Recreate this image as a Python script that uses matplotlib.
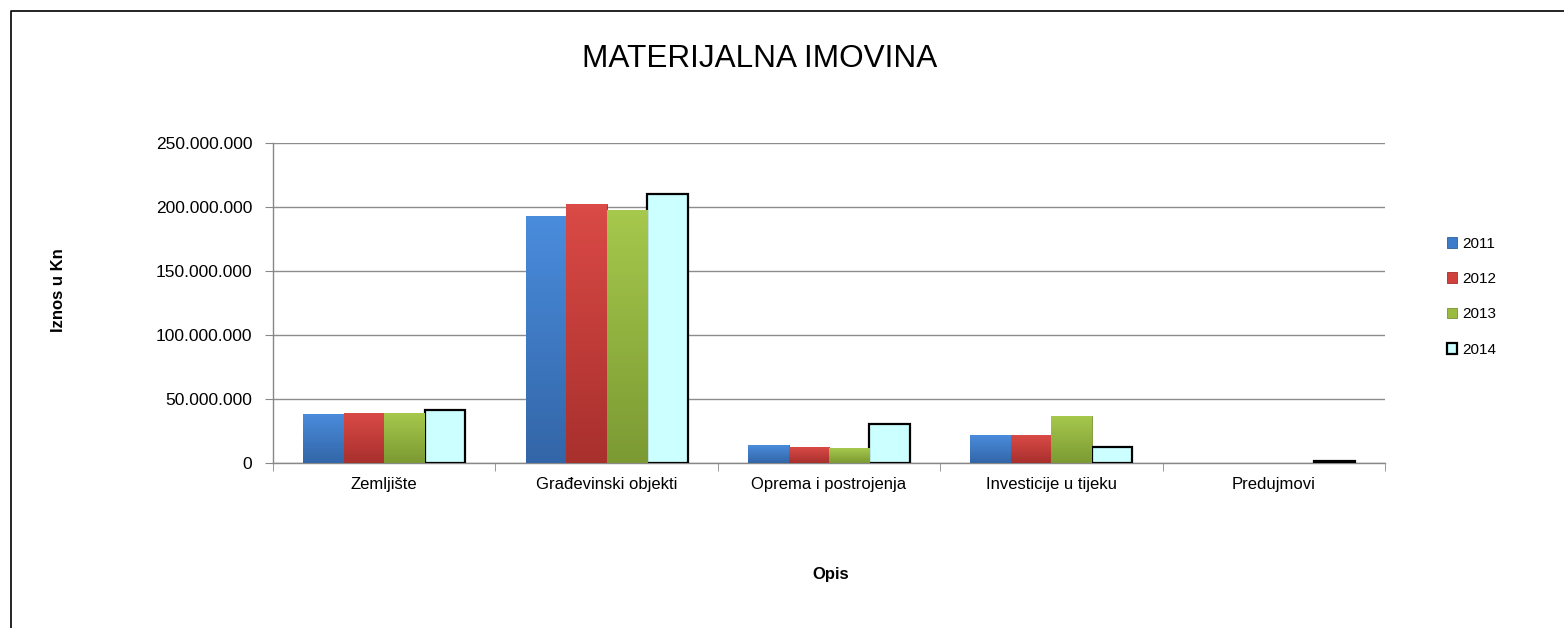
import numpy as np
import matplotlib.pyplot as plt
from matplotlib.colors import LinearSegmentedColormap
from matplotlib.ticker import FuncFormatter

categories = ["Zemljište", "Građevinski objekti", "Oprema i postrojenja",
              "Investicije u tijeku", "Predujmovi"]
years = ["2011", "2012", "2013", "2014"]
v2011 = [38.3e6, 193.0e6, 14.0e6, 21.7e6, 0.0]
v2012 = [39.3e6, 202.3e6, 12.5e6, 21.7e6, 0.3e6]
v2013 = [39.0e6, 198.0e6, 11.5e6, 36.7e6, 0.3e6]
v2014 = [41.4e6, 210.0e6, 30.6e6, 12.3e6, 1.2e6]

colors = ["#3C7CCB", "#D0403C", "#9ABB40", "#CCFFFF"]
# light top / dark bottom for the shaded series
shades = [("#4A8CDC", "#3366A8"), ("#DA4A46", "#A8302D"), ("#A6C84C", "#7C9A33"), None]
edges = ["#2E5F9E", "#A22E2C", "#769431", "#000000"]

W, H = 1564, 628


def thousands(x, pos):
    return f"{int(x):,}".replace(",", ".")


def main():
    plt.rcParams["font.family"] = ["Liberation Sans", "DejaVu Sans"]
    fig = plt.figure(figsize=(W / 100, H / 100), dpi=100)
    # outer chart border (left and top only are visible in the crop)
    fig.add_artist(plt.Line2D([10.5 / W, 10.5 / W, 1.0],
                              [0, 1 - 11 / H, 1 - 11 / H],
                              transform=fig.transFigure, color="black", linewidth=1.2))
    ax = fig.add_axes([273 / W, 1 - 463 / H, (1385 - 273) / W, (463 - 143) / H])

    x = np.arange(len(categories))
    w = 0.182
    series = [v2011, v2012, v2013, v2014]
    grad = np.linspace(1, 0, 64).reshape(-1, 1)
    for i, (vals, year) in enumerate(zip(series, years)):
        lw = 1.6 if i == 3 else 0.6
        bars = ax.bar(x + (i - 1.5) * w, vals, w, color=colors[i], edgecolor=edges[i],
                      linewidth=lw, label=year, zorder=3)
        if shades[i] is None:
            continue
        cmap = LinearSegmentedColormap.from_list(f"s{i}", [shades[i][1], shades[i][0]])
        for b in bars:
            if b.get_height() <= 0:
                continue
            x0, y0 = b.get_x(), b.get_y()
            im = ax.imshow(grad, cmap=cmap, aspect="auto", zorder=3.5,
                           extent=[x0, x0 + b.get_width(), y0, y0 + b.get_height()])
            im.set_clip_path(b)

    ax.set_xlim(-0.5, len(categories) - 0.5)
    ax.set_ylim(0, 250e6)
    ax.set_yticks(np.arange(0, 250e6 + 1, 50e6))
    ax.yaxis.set_major_formatter(FuncFormatter(thousands))
    ax.set_xticks(x)
    ax.set_xticklabels(categories)
    ax.set_xticks(np.arange(-0.5, len(categories)), minor=True)
    ax.tick_params(axis="x", which="major", length=0, pad=10, labelsize=12)
    ax.tick_params(axis="x", which="minor", length=6, color="#888888")
    ax.tick_params(axis="y", length=6, color="#888888", labelsize=12.5, pad=9)
    ax.grid(axis="y", color="#8c8c8c", linewidth=1.0, zorder=0)
    for side in ["top", "right"]:
        ax.spines[side].set_visible(False)
    for side in ["left", "bottom"]:
        ax.spines[side].set_color("#888888")
        ax.spines[side].set_linewidth(1.0)

    fig.text(59 / W, 1 - 290 / H, "Iznos u Kn", rotation=90, ha="center", va="center",
             fontsize=12, fontweight="bold")
    fig.text(831 / W, 1 - 575 / H, "Opis", ha="center", va="center",
             fontsize=12, fontweight="bold")
    fig.text(760 / W, 1 - 67 / H, "MATERIJALNA IMOVINA", ha="center", va="baseline",
             fontsize=22.7)

    ax.legend(loc="center left", bbox_to_anchor=(1.05, 0.52), frameon=False,
              fontsize=11, handlelength=0.7, handleheight=0.7, handletextpad=0.3,
              labelspacing=1.4, borderaxespad=0)

    fig.savefig("out.png", dpi=100)


if __name__ == "__main__":
    main()
